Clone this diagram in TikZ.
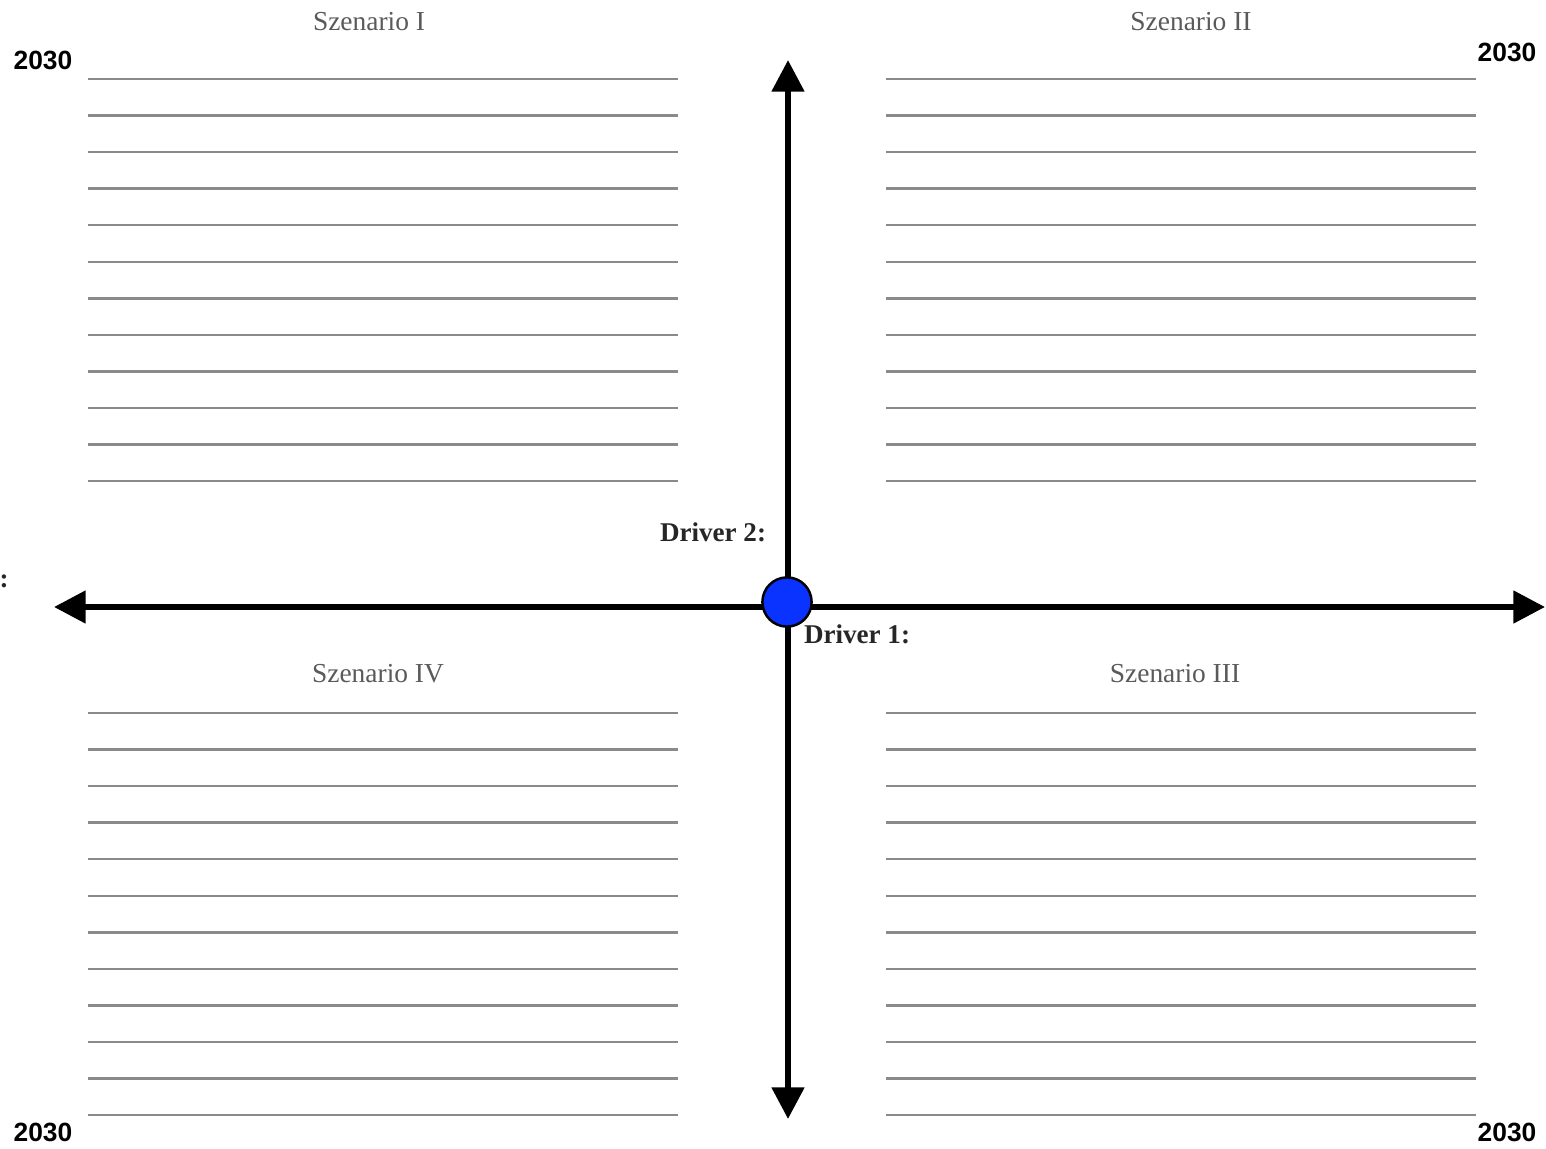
\documentclass[tikz,border=0pt]{standalone}
\usepackage{fontspec}
\setmainfont{Liberation Serif}
\newfontfamily\arialfont{Liberation Sans}
\usetikzlibrary{arrows.meta}
\definecolor{ruleGray}{HTML}{8A8A8A}
\definecolor{titleGray}{HTML}{5A5A5A}
\definecolor{dotBlue}{HTML}{0A33FF}
\tikzset{
  ruleline/.style={draw=ruleGray, line width=0.7pt},
  title/.style={text=titleGray, font=\fontsize{7.8}{9}\selectfont, inner sep=0pt},
  yearlbl/.style={font=\arialfont\bfseries\fontsize{7.5}{9}\selectfont, inner sep=0pt},
  driverlbl/.style={text=black!85, font=\bfseries\fontsize{7.7}{9}\selectfont, inner sep=0pt},
  axis/.style={line width=1.7pt, -{Triangle[length=9pt,width=9pt]}},
}
\begin{document}
\begin{tikzpicture}[x=0.01cm,y=-0.01cm]
\useasboundingbox (0,0) rectangle (1546,1149);
% ruled lines
\foreach \i in {0,...,11}{
  \pgfmathsetmacro{\yt}{79+36.55*\i}
  \pgfmathsetmacro{\yb}{713+36.55*\i}
  \draw[ruleline] (88,\yt) -- (678,\yt);
  \draw[ruleline] (886,\yt) -- (1476,\yt);
  \draw[ruleline] (88,\yb) -- (678,\yb);
  \draw[ruleline] (886,\yb) -- (1476,\yb);
}
% titles
\node[title] (s1) at (369,22) {Szenario I};
\node[title] (s2) at (1191,22) {Szenario II};
\node[title] (s4) at (378,674) {Szenario IV};
\node[title] (s3) at (1175,674) {Szenario III};
% years
\node[yearlbl] (ytl) at (43,60) {2030};
\node[yearlbl] (ytr) at (1507,52) {2030};
\node[yearlbl] (ybl) at (43,1132) {2030};
\node[yearlbl] (ybr) at (1507,1132) {2030};
% axes
\coordinate (center) at (788,607);
\coordinate (left) at (54,607);
\coordinate (right) at (1545,607);
\coordinate (top) at (788,60);
\coordinate (bottom) at (788,1119);
\draw[axis] (center) -- (left);
\draw[axis] (center) -- (right);
\draw[axis] (center) -- (top);
\draw[axis] (center) -- (bottom);
% drivers
\node[driverlbl] (d2) at (713,532) {Driver 2:};
\node[driverlbl] (d1) at (857,634) {Driver 1:};
\node[driverlbl, anchor=west] (colon) at (-1,581) {:};
% center dot
\node[circle, draw=black, line width=0.7pt, fill=dotBlue, minimum size=14pt, inner sep=0pt] (dot) at (787,602) {};
\end{tikzpicture}
\end{document}
